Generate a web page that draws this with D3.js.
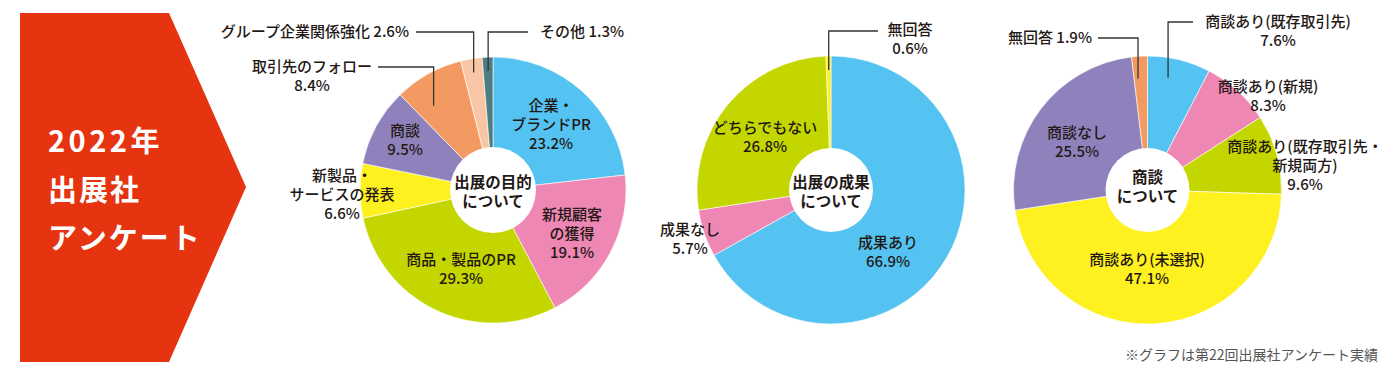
<!DOCTYPE html>
<html>
<head>
<meta charset="utf-8">
<script src="https://cdn.jsdelivr.net/npm/d3@7"></script>
<style>
  html, body { margin: 0; padding: 0; background: #fff; }
  svg { display: block; font-family: "Noto Sans CJK JP", "Noto Sans", sans-serif; }
</style>
</head>
<body>
<div id="chart"></div>
<script>
// survey results (%), clockwise from 12 o'clock
const purposeLabels = ["企業・ブランドPR", "新規顧客の獲得", "商品・製品のPR", "新製品・サービスの発表", "商談", "取引先のフォロー", "グループ企業関係強化", "その他"];
const purposeValues = [23.2, 19.1, 29.3, 6.6, 9.5, 8.4, 2.6, 1.3];

const resultLabels = ["成果あり", "成果なし", "どちらでもない", "無回答"];
const resultValues = [66.9, 5.7, 26.8, 0.6];

const dealLabels = ["商談あり(既存取引先)", "商談あり(新規)", "商談あり(既存取引先・新規両方)", "商談あり(未選択)", "商談なし", "無回答"];
const dealValues = [7.6, 8.3, 9.6, 47.1, 25.5, 1.9];

const C = {
  blue: "#54c3f1", pink: "#ee87b4", lime: "#c4d600", yellow: "#fff01f",
  purple: "#8f82bc", orange: "#f39a63", peach: "#f8c6a5", teal: "#4f7c80"
};

const width = 1400, height = 384;
const textColor = "#231815";
const labelSize = "15px";
const lineGap = 18.8;

const svg = d3.select("#chart").append("svg")
  .attr("width", width)
  .attr("height", height);

// red arrow panel
svg.append("path")
  .attr("d", "M20,13 L169,13 L246,187 L169,362 L20,362 Z")
  .attr("fill", "#e5340f");

["2022年", "出展社", "アンケート"].forEach((t, i) => {
  svg.append("text")
    .attr("x", 48)
    .attr("y", 152 + i * 48.5)
    .attr("fill", "#fff")
    .style("font-size", "29px")
    .style("font-weight", 700)
    .style("letter-spacing", i === 0 ? "3.5px" : "2px")
    .text(t);
});

function drawDonut(opts) {
  const { cx, cy, r, inner, values, colors, center, centerY, labels, callouts } = opts;
  const g = svg.append("g").attr("transform", `translate(${cx},${cy})`);

  const pie = d3.pie().sort(null).value(d => d)(values);
  const arc = d3.arc().innerRadius(0).outerRadius(r);

  g.selectAll("path.slice")
    .data(pie)
    .join("path")
    .attr("class", "slice")
    .attr("d", arc)
    .attr("fill", (d, i) => colors[i])
    .attr("stroke", "#fff")
    .attr("stroke-width", 0.6);

  g.append("circle").attr("r", inner).attr("fill", "#fff");

  const centerText = g.append("text")
    .attr("text-anchor", "middle")
    .attr("fill", textColor)
    .style("font-size", "15.5px")
    .style("font-weight", 700);
  center.forEach((t, i) => {
    centerText.append("tspan")
      .attr("x", 0)
      .attr("y", (i - (center.length - 1) / 2) * 19.5 + centerY)
      .attr("dy", "0.35em")
      .text(t);
  });

  // in-slice / outside labels
  labels.forEach(l => {
    const d = pie[l.i];
    const t = svg.append("text")
      .attr("text-anchor", l.anchor || "middle")
      .attr("fill", textColor)
      .style("font-size", labelSize)
      .style("font-weight", 500);
    const lines = l.lines.concat([`${d.data.toFixed(1)}%`]);
    lines.forEach((s, k) => {
      t.append("tspan")
        .attr("x", l.x)
        .attr("y", l.y + k * lineGap)
        .attr("dy", "0.35em")
        .text(s);
    });
  });

  // callouts with leader lines
  callouts.forEach(c => {
    const d = pie[c.i];
    const a = d.startAngle + (d.endAngle - d.startAngle) * c.at;
    const px = cx + c.rr * Math.sin(a);
    const py = cy - c.rr * Math.cos(a);
    svg.append("path")
      .attr("d", `M${c.lx},${c.ly} L${px},${c.ly} L${px},${py}`)
      .attr("fill", "none")
      .attr("stroke", "#333")
      .attr("stroke-width", 1.3);
    const t = svg.append("text")
      .attr("text-anchor", c.anchor)
      .attr("fill", textColor)
      .style("font-size", labelSize)
      .style("font-weight", 500);
    const pct = `${d.data.toFixed(1)}%`;
    const lines = c.inline ? [c.lines[0] + " " + pct] : c.lines.concat([pct]);
    lines.forEach((s, k) => {
      t.append("tspan")
        .attr("x", c.tx)
        .attr("y", c.ty + k * lineGap)
        .attr("dy", "0.35em")
        .text(s);
    });
  });
}

drawDonut({
  cx: 493, cy: 190, r: 133, inner: 43,
  values: purposeValues,
  colors: [C.blue, C.pink, C.lime, C.yellow, C.purple, C.orange, C.peach, C.teal],
  center: ["出展の目的", "について"], centerY: 2,
  labels: [
    { i: 0, x: 551, y: 106, lines: ["企業・", "ブランドPR"] },
    { i: 1, x: 572, y: 215, lines: ["新規顧客", "の獲得"] },
    { i: 2, x: 461, y: 260, lines: ["商品・製品のPR"] },
    { i: 3, x: 342, y: 176, lines: ["新製品・", "サービスの発表"] },
    { i: 4, x: 405, y: 131, lines: ["商談"] }
  ],
  callouts: [
    { i: 5, at: 0.3, rr: 103, lx: 378, ly: 67, tx: 312, ty: 67, anchor: "middle", lines: ["取引先のフォロー"] },
    { i: 6, at: 0.5, rr: 119, lx: 416, ly: 32, tx: 409, ty: 32, anchor: "end", lines: ["グループ企業関係強化"], inline: true },
    { i: 7, at: 0.5, rr: 119, lx: 528, ly: 32, tx: 540, ty: 32, anchor: "start", lines: ["その他"], inline: true }
  ]
});

drawDonut({
  cx: 831, cy: 190, r: 134, inner: 42,
  values: resultValues,
  colors: [C.blue, C.pink, C.lime, C.yellow],
  center: ["出展の成果", "について"], centerY: 2,
  labels: [
    { i: 0, x: 888, y: 243, lines: ["成果あり"] },
    { i: 1, x: 690, y: 230, lines: ["成果なし"] },
    { i: 2, x: 765, y: 128, lines: ["どちらでもない"] }
  ],
  callouts: [
    { i: 3, at: 0.5, rr: 120, lx: 878, ly: 31, tx: 910, ty: 30, anchor: "middle", lines: ["無回答"] }
  ]
});

drawDonut({
  cx: 1147.5, cy: 190, r: 134, inner: 42,
  values: dealValues,
  colors: [C.blue, C.pink, C.lime, C.yellow, C.purple, C.orange],
  center: ["商談", "について"], centerY: -3,
  labels: [
    { i: 1, x: 1268, y: 87, lines: ["商談あり(新規)"] },
    { i: 2, x: 1305, y: 147, lines: ["商談あり(既存取引先・", "新規両方)"] },
    { i: 3, x: 1147, y: 260, lines: ["商談あり(未選択)"] },
    { i: 4, x: 1077, y: 133, lines: ["商談なし"] }
  ],
  callouts: [
    { i: 0, at: 0.38, rr: 114, lx: 1193, ly: 22, tx: 1278, ty: 22, anchor: "middle", lines: ["商談あり(既存取引先)"] },
    { i: 5, at: 0.29, rr: 112, lx: 1098, ly: 38, tx: 1092, ty: 38, anchor: "end", lines: ["無回答"], inline: true }
  ]
});

svg.append("text")
  .attr("x", 1378)
  .attr("y", 355)
  .attr("dy", "0.35em")
  .attr("text-anchor", "end")
  .attr("fill", "#555")
  .style("font-size", "14px")
  .text("※グラフは第22回出展社アンケート実績");
</script>
</body>
</html>
